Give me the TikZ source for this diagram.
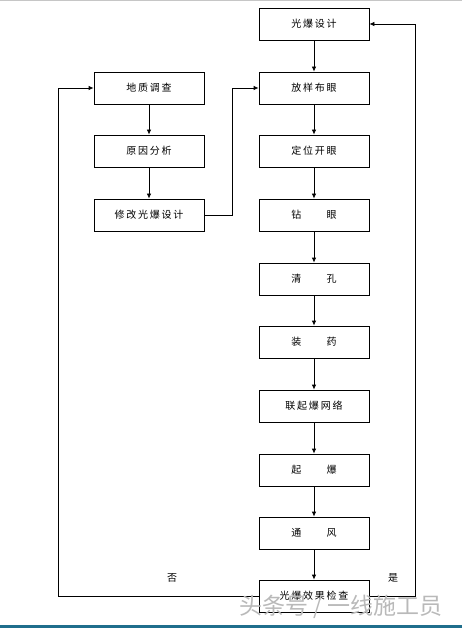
\documentclass[tikz,border=0pt]{standalone}
\usepackage{fontspec}
\newfontfamily\cjk[LetterSpace=18]{Noto Sans CJK SC}
\newfontfamily\cjkwm{Noto Sans CJK SC}
\usetikzlibrary{arrows.meta}
\definecolor{teal1}{RGB}{31,110,140}
\tikzset{
  box/.style={draw=black, line width=0.8pt, minimum width=110pt, minimum height=32pt, inner sep=0pt, font=\cjk\fontsize{10}{12}\selectfont},
  arr/.style={line width=0.8pt, -{Latex[length=5pt,width=4.5pt]}},
  lbl/.style={font=\cjk\fontsize{10}{12}\selectfont},
}
\begin{document}
\begin{tikzpicture}[x=1pt,y=-1pt]
\useasboundingbox (0,0) rectangle (462,628);
\fill[gray!45] (0,0) rectangle (462,1.5);
\fill[teal1] (0,625) rectangle (462,628);
% right column
\node[box] (b1) at (314,24) {光爆设计};
\node[box] (b2) at (314,88) {放样布眼};
\node[box] (b3) at (314,151) {定位开眼};
\node[box] (b4) at (314,215) {钻　　眼};
\node[box] (b5) at (314,279) {清　　孔};
\node[box] (b6) at (314,342) {装　　药};
\node[box] (b7) at (314,406) {联起爆网络};
\node[box] (b8) at (314,470) {起　　爆};
\node[box] (b9) at (314,533) {通　　风};
\node[box] (b10) at (314,596) {光爆效果检查};
% left column
\node[box] (l1) at (149,88) {地质调查};
\node[box] (l2) at (149,151) {原因分析};
\node[box] (l3) at (149,215) {修改光爆设计};
% connectors
\foreach \a/\b in {b1/b2,b2/b3,b3/b4,b4/b5,b5/b6,b6/b7,b7/b8,b8/b9,b9/b10,l1/l2,l2/l3}
  \draw[arr] (\a) -- (\b);
\draw[arr] (l3.east) -- ([xshift=28pt]l3.east) |- (b2.west);
\coordinate (lx) at (58.5,596);
\coordinate (rx) at (415,596);
\draw[arr] (b10.west) -- (lx) |- (l1.west);
\draw[arr] (b10.east) -- (rx) |- (b1.east);
\node[lbl] (no) at (172,578) {否};
\node[lbl] (yes) at (393,578) {是};
% watermark
\node[font=\cjkwm\fontsize{23}{26}\selectfont, text=gray!55, inner sep=0pt] (wm) at (341,607) {头条号 / 一线施工员};
\end{tikzpicture}
\end{document}
